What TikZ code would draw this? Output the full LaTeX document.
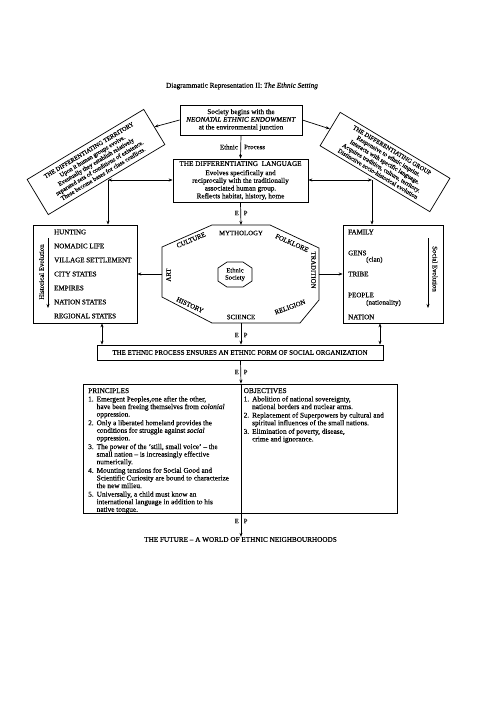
\documentclass[tikz,border=0pt]{standalone}
\usepackage{fontspec}
\setmainfont{Liberation Serif}[FakeBold=0.3]
\usetikzlibrary{arrows.meta,calc}
\begin{document}
\begin{tikzpicture}[x=1pt,y=1pt,
  lw/.style={line width=0.7pt},
  box/.style={draw, lw, inner sep=1pt, align=center, font=\fontsize{7.2}{7.7}\selectfont},
  rbox/.style={draw, lw, inner sep=1pt, align=center, font=\fontsize{6.2}{6.9}\selectfont},
  arr/.style={lw, -{Stealth[length=4pt,width=3pt]}},
  darr/.style={lw, {Stealth[length=4pt,width=3pt]}-{Stealth[length=4pt,width=3pt]}},
  lbl/.style={inner sep=0pt, font=\fontsize{6.8}{7.5}\selectfont},
  itm/.style={inner sep=0pt, anchor=west, font=\fontsize{7}{7.5}\selectfont},
  olbl/.style={inner sep=0pt, font=\fontsize{6.8}{7.5}\selectfont},
  txt/.style={inner sep=0pt, anchor=north west, align=left, font=\fontsize{7.3}{7.6}\selectfont},
]
\useasboundingbox (0,0) rectangle (480,-713);
\fill[white] (0,0) rectangle (480,-713);

% title
\node[inner sep=0pt, font=\fontsize{7.3}{8}\selectfont] (title) at (242,-86) {Diagrammatic Representation II: \textit{The Ethnic Setting}};

% top boxes
\node[box, minimum width=122pt, minimum height=30pt] (soc) at (241,-120)
  {Society begins with the\\\textit{NEONATAL ETHNIC ENDOWMENT}\\at the environmental junction};
\node[box, minimum width=135pt, minimum height=43pt] (lang) at (240.5,-180.5)
  {THE DIFFERENTIATING\ \ LANGUAGE\\[1.5pt]Evolves specifically and\\reciprocally with the traditionally\\associated human group.\\Reflects habitat, history, home};

\node[rbox, rotate=31, minimum width=136pt, minimum height=41pt] (terr) at (96,-162)
  {THE DIFFERENTIATING TERRITORY\\Upon it human groups evolve.\\Eventually they establish relatively\\separated sets of conditions of existence.\\These become bases for class conflicts.};
\node[rbox, rotate=-31, minimum width=128pt, minimum height=39pt] (grp) at (385,-162)
  {THE DIFFERENTIATING GROUP\\Responsive to ethnic imprint.\\Interacts with specific language.\\Acquires tradition, culture, territory.\\Distinctive socio-historical evolution};

\draw[arr] (soc.west) -- (terr.east);
\draw[arr] (soc.east) -- (grp.west);
\draw[arr] (soc.south) -- (lang.north);
\node[lbl, anchor=east] (ethn) at (238,-147) {Ethnic};
\node[lbl, anchor=west] (proc1) at (244,-147) {Process};

% side boxes
\node[draw, lw, minimum width=104pt, minimum height=98pt] (hunt) at (85,-274) {};
\node[draw, lw, minimum width=100pt, minimum height=98pt] (fam) at (393,-274) {};

\coordinate (jl) at (108,-180);
\coordinate (jr) at (372,-180);
\draw[darr] (lang.west |- jl) -- (jl);
\draw[arr] (jl) -- (jl |- hunt.north);
\draw[darr] (lang.east |- jr) -- (jr);
\draw[arr] (jr) -- (jr |- fam.north);

\node[itm] (h1) at (54,-232) {HUNTING};
\node[itm] (h2) at (54,-246) {NOMADIC LIFE};
\node[itm] (h3) at (54,-260) {VILLAGE SETTLEMENT};
\node[itm] (h4) at (54,-274) {CITY STATES};
\node[itm] (h5) at (54,-288) {EMPIRES};
\node[itm] (h6) at (54,-302) {NATION STATES};
\node[itm] (h7) at (54,-316) {REGIONAL STATES};
\node[lbl, rotate=90] (hev) at (41.5,-272) {Historical Evolution};
\coordinate (hevt) at (48,-238);
\coordinate (hevb) at (48,-308);
\draw[arr] (hevt) -- (hevb);

\node[itm] (f1) at (348,-232) {FAMILY};
\node[itm] (f2) at (348,-253) {GENS};
\node[itm] (f2b) at (366,-260) {(clan)};
\node[itm] (f3) at (348,-274) {TRIBE};
\node[itm] (f4) at (348,-295) {PEOPLE};
\node[itm] (f4b) at (366,-303) {(nationality)};
\node[itm] (f5) at (348,-317) {NATION};
\node[lbl, rotate=-90] (sev) at (435,-269) {Social Evolution};
\coordinate (sevt) at (428,-238);
\coordinate (sevb) at (428,-308);
\draw[arr] (sevt) -- (sevb);

% central octagon
\coordinate (o1) at (212,-225);
\coordinate (o2) at (270,-225);
\coordinate (o3) at (319,-248);
\coordinate (o4) at (319,-300);
\coordinate (o5) at (300,-323);
\coordinate (o6) at (212,-323);
\coordinate (o7) at (162,-297);
\coordinate (o8) at (162,-247);
\draw[lw] (o1) -- (o2) -- (o3) -- (o4) -- (o5) -- (o6) -- (o7) -- (o8) -- cycle;
\coordinate (otop) at (241,-225);
\coordinate (obot) at (241,-323);
\coordinate (oleft) at (162,-274);
\coordinate (oright) at (319,-274);
\draw[arr] (lang.south) -- (otop);
\node[lbl, anchor=east] (e1) at (239,-213) {E};
\node[lbl, anchor=west] (p1) at (243.5,-213) {P};
\draw[arr] (oleft) -- (oleft -| hunt.east);
\draw[arr] (oright) -- (oright -| fam.west);

\node[olbl] (myth) at (241,-233) {MYTHOLOGY};
\node[olbl, rotate=23] (cult) at (191,-240) {CULTURE};
\node[olbl, rotate=-24] (folk) at (292,-243) {FOLKLORE};
\node[olbl, rotate=90] (art) at (168.5,-275) {ART};
\node[olbl, rotate=-90] (trad) at (313.5,-270) {TRADITION};
\node[olbl, rotate=-25] (hist) at (190,-305) {HISTORY};
\node[olbl] (sci) at (241,-317) {SCIENCE};
\node[olbl, rotate=20] (rel) at (290,-307) {RELIGION};

% small octagon
\draw[lw] (227,-262) -- (243,-262) -- (252,-268) -- (252,-281) -- (243,-287) -- (227,-287) -- (218,-281) -- (218,-268) -- cycle;
\node[inner sep=0pt, align=center, font=\fontsize{6.6}{7.2}\selectfont] (es) at (235,-274.5) {Ethnic\\Society};

% process box
\node[box, minimum width=286pt, minimum height=15pt, font=\fontsize{6.9}{7.5}\selectfont] (proc) at (240,-352.5)
  {THE ETHNIC PROCESS ENSURES AN ETHNIC FORM OF SOCIAL ORGANIZATION};
\draw[darr] ([xshift=17pt]hunt.south) -- ([xshift=17pt]hunt.south |- proc.north);
\draw[darr] ([xshift=-13pt]fam.south) -- ([xshift=-13pt]fam.south |- proc.north);
\draw[arr] (obot) -- (obot |- proc.north);
\node[lbl, anchor=east] (e2) at (239,-335) {E};
\node[lbl, anchor=west] (p2) at (243.5,-335) {P};

% principles / objectives box
\node[draw, lw, minimum width=314pt, minimum height=129pt] (prin) at (240.5,-448.5) {};
\draw[lw] ([xshift=0.5pt]prin.north) -- ([xshift=0.5pt]prin.south);
\draw[arr] ([xshift=0.5pt]proc.south) -- ([xshift=0.5pt]prin.north);
\node[lbl, anchor=east] (e3) at (239,-372) {E};
\node[lbl, anchor=west] (p3) at (243.5,-372) {P};

\node[txt] (plist) at (88,-387.5) {%
\begin{tabular}{@{}l@{\hspace{3pt}}l@{}}
\multicolumn{2}{@{}l}{PRINCIPLES}\\[0.8pt]
1. & Emergent Peoples,one after the other,\\
   & have been freeing themselves from \textit{colonial}\\
   & oppression.\\[1pt]
2. & Only a liberated homeland provides the\\
   & conditions for struggle against \textit{social}\\
   & oppression.\\[1pt]
3. & The power of the `still, small voice' -- the\\
   & small nation -- is increasingly effective\\
   & numerically.\\[1pt]
4. & Mounting tensions for Social Good and\\
   & Scientific Curiosity are bound to characterize\\
   & the new milieu.\\[1pt]
5. & Universally, a child must know an\\
   & international language in addition to his\\
   & native tongue.
\end{tabular}};

\node[txt] (olist) at (243.5,-387.5) {%
\begin{tabular}{@{}l@{\hspace{3pt}}l@{}}
\multicolumn{2}{@{}l}{OBJECTIVES}\\[0.8pt]
1. & Abolition of national sovereignty,\\
   & national borders and nuclear arms.\\[1pt]
2. & Replacement of Superpowers by cultural and\\
   & spiritual influences of the small nations.\\[1pt]
3. & Elimination of poverty, disease,\\
   & crime and ignorance.
\end{tabular}};

% bottom
\node[inner sep=0pt, font=\fontsize{7.2}{7.5}\selectfont] (fut) at (240.5,-539.5) {THE FUTURE -- A WORLD OF ETHNIC NEIGHBOURHOODS};
\draw[arr] ([xshift=0.5pt]prin.south) -- ([xshift=0.5pt]prin.south |- fut.north);
\node[lbl, anchor=east] (e4) at (239,-521) {E};
\node[lbl, anchor=west] (p4) at (243.5,-521) {P};
\end{tikzpicture}
\end{document}
